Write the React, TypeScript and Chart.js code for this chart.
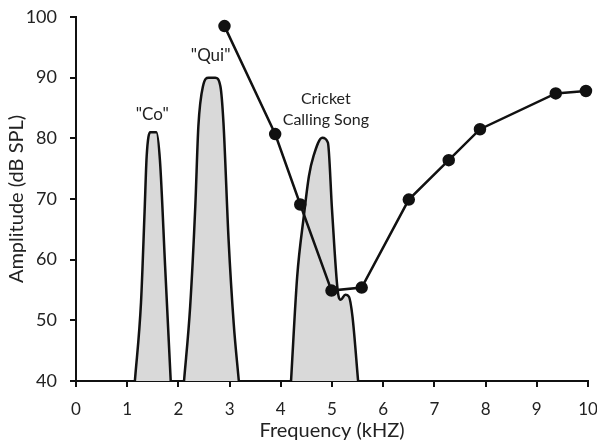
import React, { useEffect, useRef } from "react";
import { Chart, registerables } from "chart.js";
Chart.register(...registerables);

const xTicks = [0, 1, 2, 3, 4, 5, 6, 7, 8, 9, 10];
const yTicks = [40, 50, 60, 70, 80, 90, 100];

const coFreq = [1.15, 1.27, 1.34, 1.38, 1.45, 1.51, 1.57, 1.64, 1.74, 1.85];
const coAmp = [40, 53, 68, 77, 81, 81, 81, 76.3, 59, 40];

const quiFreq = [2.11, 2.23, 2.33, 2.39, 2.48, 2.59, 2.72, 2.82, 2.88, 2.98, 3.08, 3.18];
const quiAmp = [40, 52.3, 68.8, 82, 88.6, 90, 90, 88.6, 82.6, 63.3, 49.5, 40];

const cricketFreq = [4.2, 4.32, 4.45, 4.55, 4.64, 4.81, 4.92, 5.0, 5.11, 5.17, 5.26, 5.33, 5.4, 5.51];
const cricketAmp = [40, 57.2, 67.2, 73.8, 77.1, 80.1, 79.3, 68.3, 55, 53.4, 54.2, 53.9, 50.6, 40];

const threshFreq = [2.9, 3.89, 4.38, 4.99, 5.58, 6.5, 7.28, 7.89, 9.37, 9.96];
const threshAmp = [98.5, 80.7, 69.1, 54.9, 55.4, 69.9, 76.4, 81.5, 87.4, 87.8];

const noteTexts = ['"Co"', '"Qui"', "Cricket", "Calling Song"];
const noteX = [1.49, 2.63, 4.88, 4.88];
const noteY = [84, 93.6, 86.45, 83.0];
const noteSize = [17, 17, 16, 16];

const FONT = "Lato, 'Open Sans', sans-serif";

const pts = (xs: number[], ys: number[]) => xs.map((x, i) => ({ x, y: ys[i] }));

const notesPlugin = {
  id: "notes",
  afterDatasetsDraw(chart: any) {
    const { ctx, scales } = chart;
    ctx.save();
    ctx.fillStyle = "#222";
    ctx.textAlign = "center";
    ctx.textBaseline = "middle";
    noteTexts.forEach((t, i) => {
      ctx.font = `${noteSize[i]}px ${FONT}`;
      ctx.fillText(t, scales.x.getPixelForValue(noteX[i]), scales.y.getPixelForValue(noteY[i]));
    });
    ctx.restore();
  },
};

export default function App() {
  const ref = useRef<HTMLCanvasElement>(null);
  useEffect(() => {
    document.body.style.margin = "0";
    const shape = (xs: number[], ys: number[]) => ({
      type: "line" as const,
      data: pts(xs, ys),
      borderColor: "#111",
      borderWidth: 2.5,
      backgroundColor: "#d9d9d9",
      fill: { value: 40 },
      pointRadius: 0,
      cubicInterpolationMode: "monotone" as const,
      order: 2,
      clip: false as any,
    });
    const chart = new Chart(ref.current!, {
      type: "line",
      data: {
        datasets: [
          shape(coFreq, coAmp),
          shape(quiFreq, quiAmp),
          shape(cricketFreq, cricketAmp),
          {
            type: "line",
            data: pts(threshFreq, threshAmp),
            borderColor: "#111",
            borderWidth: 2.5,
            backgroundColor: "#111",
            pointBackgroundColor: "#111",
            pointBorderColor: "#111",
            pointRadius: 5,
            fill: false,
            tension: 0,
            order: 0,
            clip: false as any,
          },
        ],
      },
      options: {
        animation: false,
        responsive: false,
        events: [],
        layout: { padding: { left: 0, right: 9, top: 17, bottom: 0 } },
        plugins: { legend: { display: false }, tooltip: { enabled: false } },
        scales: {
          x: {
            type: "linear",
            min: 0,
            max: 10,
            afterBuildTicks: (s: any) => {
              s.ticks = xTicks.map((v) => ({ value: v }));
            },
            afterFit: (s: any) => {
              s.height = 62;
              s.paddingLeft = 0;
              s.paddingRight = 0;
            },
            grid: { drawOnChartArea: false, color: "#111", tickLength: 6, lineWidth: 2 },
            border: { color: "#111", width: 2 },
            ticks: { color: "#222", font: { family: FONT, size: 17 }, padding: 12, maxRotation: 0 },
            title: { display: true, text: "Frequency (kHZ)", color: "#222", font: { family: FONT, size: 20 }, padding: { top: 0, bottom: 0 } },
          },
          y: {
            type: "linear",
            min: 40,
            max: 100,
            afterBuildTicks: (s: any) => {
              s.ticks = yTicks.map((v) => ({ value: v }));
            },
            afterFit: (s: any) => {
              s.width = 76;
              s.paddingTop = 0;
              s.paddingBottom = 0;
            },
            grid: { drawOnChartArea: false, color: "#111", tickLength: 6, lineWidth: 2 },
            border: { color: "#111", width: 2 },
            ticks: { color: "#222", font: { family: FONT, size: 18 }, padding: 13 },
            title: { display: true, text: "Amplitude (dB SPL)", color: "#222", font: { family: FONT, size: 20 }, padding: { top: 5, bottom: 0 } },
          },
        },
      },
      plugins: [notesPlugin],
    });
    return () => chart.destroy();
  }, []);
  return (
    <div style={{ width: 597, height: 443, background: "#fff" }}>
      <canvas ref={ref} width={597} height={443} style={{ display: "block" }} />
    </div>
  );
}
